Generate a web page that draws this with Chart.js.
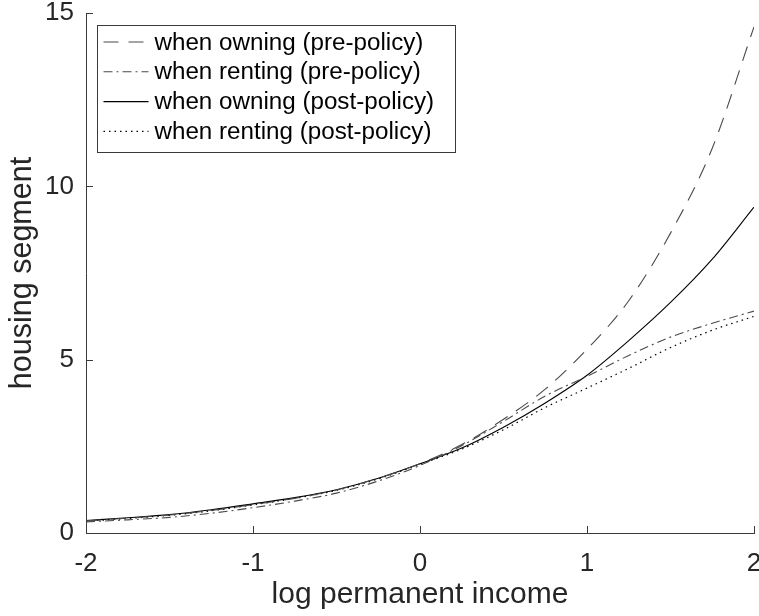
<!DOCTYPE html>
<html>
<head>
<meta charset="utf-8">
<script src="https://cdn.jsdelivr.net/npm/chart.js@4.4.0/dist/chart.umd.min.js"></script>
<style>
    html, body { margin: 0; padding: 0; background: #fff; overflow: hidden; }
    #wrap { width: 759px; height: 616px; overflow: hidden; }
</style>
</head>
<body>
<div id="wrap"><canvas id="Chart" width="770" height="616"></canvas></div>
<script>
// log permanent income grid
const incomeGrid = [-2, -1.75, -1.5, -1.25, -1, -0.75, -0.5, -0.25, 0, 0.25, 0.5, 0.75, 1, 1.25, 1.5, 1.75, 2];

// housing segment
const owningPre   = [0.35, 0.43, 0.52, 0.65, 0.82, 1.00, 1.24, 1.58, 2.00, 2.55, 3.28, 4.15, 5.30, 6.70, 8.65, 11.10, 14.60];
const rentingPre  = [0.32, 0.38, 0.45, 0.57, 0.73, 0.92, 1.15, 1.50, 1.95, 2.52, 3.22, 3.95, 4.52, 5.12, 5.65, 6.05, 6.40];
const owningPost  = [0.36, 0.44, 0.53, 0.67, 0.84, 1.02, 1.25, 1.58, 2.00, 2.45, 3.05, 3.75, 4.55, 5.55, 6.65, 7.90, 9.40];
const rentingPost = [0.34, 0.42, 0.51, 0.64, 0.81, 1.00, 1.23, 1.56, 1.98, 2.42, 2.98, 3.62, 4.18, 4.75, 5.35, 5.85, 6.25];

const seriesLabels = [
    'when owning (pre-policy)',
    'when renting (pre-policy)',
    'when owning (post-policy)',
    'when renting (post-policy)'
];

const xTicks = [-2, -1, 0, 1, 2];
const yTicks = [0, 5, 10, 15];

const FONT = '"Liberation Sans", Arial, Helvetica, sans-serif';
const axisColor = '#3a3a3a';
const textColor = '#262626';

function toPoints(values) {
    return incomeGrid.map((x, i) => ({ x: x, y: values[i] }));
}

// MATLAB style: tick marks point into the axes
const inwardTicks = {
    id: 'inwardTicks',
    afterDraw(chart) {
        const { ctx, chartArea: a, scales: { x, y } } = chart;
        ctx.save();
        ctx.strokeStyle = axisColor;
        ctx.lineWidth = 1;
        ctx.beginPath();
        x.ticks.forEach(t => {
            const px = Math.round(x.getPixelForValue(t.value)) + 0.5;
            ctx.moveTo(px, a.bottom);
            ctx.lineTo(px, a.bottom - 7);
        });
        y.ticks.forEach(t => {
            const py = Math.round(y.getPixelForValue(t.value)) + 0.5;
            ctx.moveTo(a.left, py);
            ctx.lineTo(a.left + 7, py);
        });
        ctx.stroke();
        ctx.restore();
    }
};

// boxed legend inside the top-left corner
const boxLegend = {
    id: 'boxLegend',
    afterDatasetsDraw(chart) {
        const ctx = chart.ctx;
        const a = chart.chartArea;
        const x0 = Math.round(a.left + 11) + 0.5;
        const y0 = Math.round(a.top + 12) + 0.5;
        const w = 358, h = 127;
        ctx.save();
        ctx.fillStyle = '#fff';
        ctx.fillRect(x0, y0, w, h);
        ctx.strokeStyle = axisColor;
        ctx.lineWidth = 1;
        ctx.strokeRect(x0, y0, w, h);
        chart.data.datasets.forEach((ds, i) => {
            const yy = y0 + 16.5 + i * 29.8;
            ctx.setLineDash(ds.borderDash || []);
            ctx.strokeStyle = ds.borderColor;
            ctx.lineWidth = ds.borderWidth;
            ctx.beginPath();
            ctx.moveTo(x0 + 6, yy);
            ctx.lineTo(x0 + 51, yy);
            ctx.stroke();
            ctx.setLineDash([]);
            ctx.fillStyle = '#000';
            ctx.font = '24.2px ' + FONT;
            ctx.textBaseline = 'middle';
            ctx.textAlign = 'left';
            ctx.fillText(ds.label, x0 + 57, yy + 1);
        });
        ctx.restore();
    }
};

const ctx = document.getElementById('Chart').getContext('2d');
const chart = new Chart(ctx, {
    type: 'line',
    data: {
        datasets: [{
            label: seriesLabels[0],
            data: toPoints(owningPre),
            borderColor: '#4a4a4a',
            borderWidth: 1.1,
            borderDash: [15, 10]
        }, {
            label: seriesLabels[1],
            data: toPoints(rentingPre),
            borderColor: '#4a4a4a',
            borderWidth: 1.1,
            borderDash: [9, 4, 2, 4]
        }, {
            label: seriesLabels[2],
            data: toPoints(owningPost),
            borderColor: '#000',
            borderWidth: 1.1,
            borderDash: []
        }, {
            label: seriesLabels[3],
            data: toPoints(rentingPost),
            borderColor: '#000',
            borderWidth: 1.2,
            borderDash: [1.5, 4]
        }]
    },
    options: {
        responsive: false,
        animation: false,
        devicePixelRatio: 1,
        layout: { padding: { top: 13, right: 16, bottom: 0, left: 0 } },
        elements: {
            point: { radius: 0 },
            line: { cubicInterpolationMode: 'monotone', fill: false }
        },
        plugins: {
            legend: { display: false },
            tooltip: { enabled: false }
        },
        scales: {
            x: {
                type: 'linear',
                min: -2,
                max: 2,
                afterBuildTicks: s => { s.ticks = xTicks.map(v => ({ value: v })); },
                afterFit: s => { s.height = 83; s.paddingLeft = 0; s.paddingRight = 0; },
                grid: { display: false, drawTicks: false },
                border: { display: true, color: axisColor, width: 1 },
                ticks: { color: textColor, font: { family: FONT, size: 26 }, padding: 15, maxRotation: 0 },
                title: {
                    display: true,
                    text: 'log permanent income',
                    color: textColor,
                    font: { family: FONT, size: 30 },
                    padding: { top: 2, bottom: 3 }
                }
            },
            y: {
                type: 'linear',
                min: 0,
                max: 15,
                afterBuildTicks: s => { s.ticks = yTicks.map(v => ({ value: v })); },
                afterFit: s => { s.width = 86; s.paddingTop = 0; s.paddingBottom = 0; },
                grid: { display: false, drawTicks: false },
                border: { display: true, color: axisColor, width: 1 },
                ticks: { color: textColor, font: { family: FONT, size: 26 }, padding: 12 },
                title: {
                    display: true,
                    text: 'housing segment',
                    color: textColor,
                    font: { family: FONT, size: 30.5 },
                    padding: { top: 4, bottom: 2 }
                }
            }
        }
    },
    plugins: [inwardTicks, boxLegend]
});
</script>
</body>
</html>
